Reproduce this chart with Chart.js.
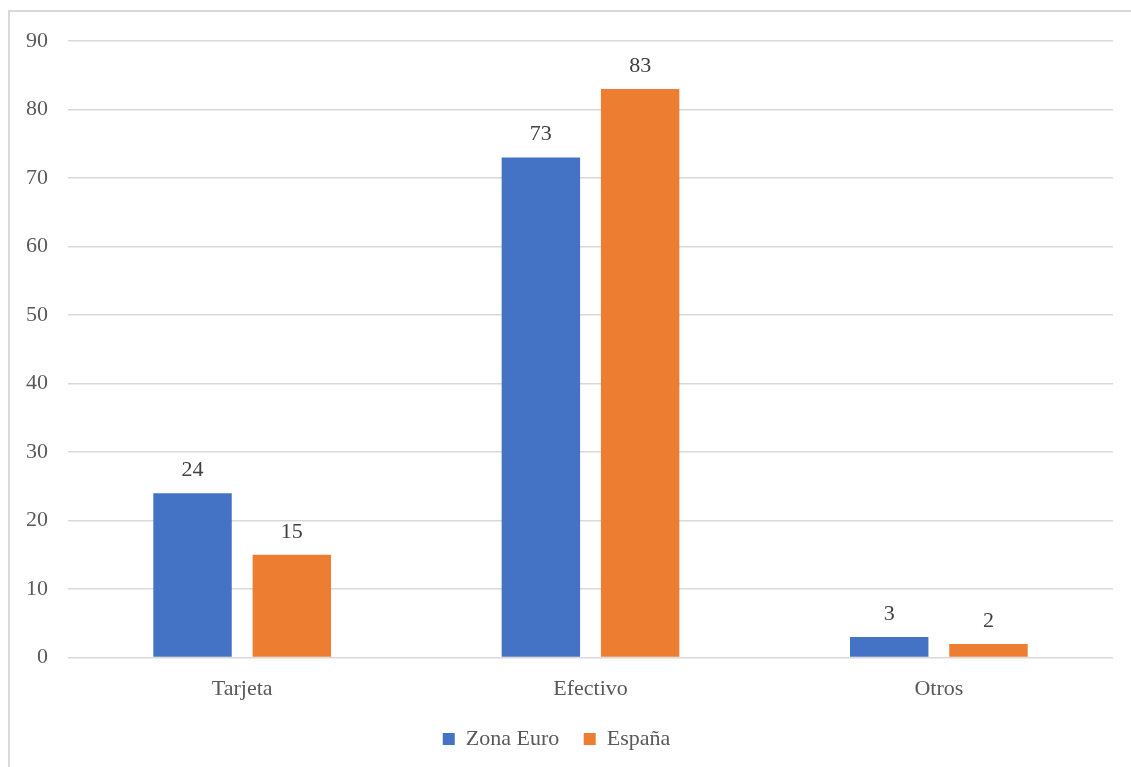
<!DOCTYPE html>
<html>
<head>
<meta charset="utf-8">
<script src="https://cdn.jsdelivr.net/npm/chart.js@4"></script>
<style>
  html, body { margin: 0; padding: 0; background: #ffffff; }
  #wrap { position: relative; width: 1131px; height: 767px; }
  #frame { position: absolute; left: 8px; top: 10px; right: -2px; bottom: -2px; border-top: 2px solid #d9d9d9; border-left: 2px solid #d9d9d9; }
  canvas { position: absolute; left: 0; top: 0; }
</style>
</head>
<body>
<div id="wrap">
  <div id="frame"></div>
  <canvas id="c" width="1131" height="767"></canvas>
</div>
<script>
const categories = ["Tarjeta", "Efectivo", "Otros"];
const seriesNames = ["Zona Euro", "España"];
const zonaEuro = [24, 73, 3];
const espana = [15, 83, 2];
const yTicks = [0, 10, 20, 30, 40, 50, 60, 70, 80, 90];

const FONT = "'Liberation Serif', 'Times New Roman', serif";
const FS = 22;

const labelPlugin = {
  id: 'valueLabels',
  afterDatasetsDraw(chart) {
    const ctx = chart.ctx;
    ctx.save();
    ctx.font = FS + "px " + FONT;
    ctx.fillStyle = "#404040";
    ctx.textAlign = "center";
    ctx.textBaseline = "bottom";
    chart.data.datasets.forEach((ds, i) => {
      const meta = chart.getDatasetMeta(i);
      meta.data.forEach((bar, j) => {
        ctx.fillText(String(ds.data[j]), bar.x, bar.y - 12);
      });
    });
    ctx.restore();
  }
};

new Chart(document.getElementById('c'), {
  type: 'bar',
  data: {
    labels: categories,
    datasets: [
      { label: seriesNames[0], data: zonaEuro, backgroundColor: '#4472C4', categoryPercentage: 0.57, barPercentage: 0.79 },
      { label: seriesNames[1], data: espana, backgroundColor: '#ED7D31', categoryPercentage: 0.57, barPercentage: 0.79 }
    ]
  },
  options: {
    responsive: false,
    animation: false,
    devicePixelRatio: 1,
    layout: { padding: { left: 0, right: 18, top: 41, bottom: 7 } },
    plugins: {
      legend: {
        position: 'bottom',
        labels: {
          boxWidth: 12, boxHeight: 12, padding: 8,
          color: '#595959',
          font: { family: FONT, size: FS },
          generateLabels(chart) {
            const items = Chart.defaults.plugins.legend.labels.generateLabels(chart);
            items.forEach((it, i) => { if (i < items.length - 1) it.text = it.text + '\u2002 '; });
            return items;
          }
        }
      },
      tooltip: { enabled: false }
    },
    scales: {
      x: {
        grid: { display: false, drawTicks: false },
        border: { display: false },
        ticks: { color: '#595959', font: { family: FONT, size: FS }, padding: 18 }
      },
      y: {
        min: 0, max: 90,
        afterBuildTicks(scale) { scale.ticks = yTicks.map(v => ({ value: v })); },
        afterFit(scale) { scale.width = 68; },
        grid: { color: '#d9d9d9', lineWidth: 1.5, drawTicks: false },
        border: { display: false },
        ticks: { color: '#595959', font: { family: FONT, size: FS }, padding: 20 }
      }
    }
  },
  plugins: [labelPlugin]
});
</script>
</body>
</html>
